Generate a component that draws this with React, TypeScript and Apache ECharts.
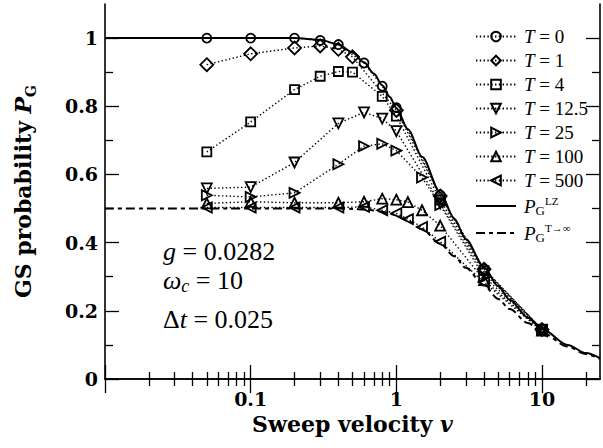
import React, { useEffect, useRef } from "react";
import * as echarts from "echarts";

// ---------- data ----------
const seriesNames = ["T0", "T1", "T4", "T12", "T25", "T100", "T500"];
const seriesLabels = ["0", "1", "4", "12.5", "25", "100", "500"];
const seriesSymbols = ["circle", "diamond", "rect", "triangle", "triangle", "triangle", "triangle"];
const seriesRotate = [0, 0, 0, 180, -90, 0, 90];
const seriesSizes = [9, 13, 9, 10, 10, 10, 10];

const vT0 = [0.05, 0.1, 0.2, 0.3, 0.4, 0.6, 0.8, 1.0, 2, 4, 10];
const pT0 = [1.0, 1.0, 1.0, 0.993, 0.981, 0.927, 0.859, 0.796, 0.54, 0.323, 0.146];

const vT1 = [0.05, 0.1, 0.2, 0.3, 0.4, 0.5, 1.0, 2, 4, 10];
const pT1 = [0.922, 0.954, 0.971, 0.977, 0.967, 0.945, 0.788, 0.537, 0.322, 0.145];

const vT4 = [0.05, 0.1, 0.2, 0.3, 0.4, 0.5, 0.8, 1.0, 2, 4, 10];
const pT4 = [0.666, 0.754, 0.849, 0.888, 0.902, 0.9, 0.829, 0.771, 0.525, 0.318, 0.145];

const vT12 = [0.05, 0.1, 0.2, 0.4, 0.6, 0.8, 1.0, 2, 4, 10];
const pT12 = [0.559, 0.563, 0.635, 0.75, 0.782, 0.764, 0.727, 0.515, 0.31, 0.145];

const vT25 = [0.05, 0.1, 0.2, 0.4, 0.6, 0.8, 1.0, 1.5, 2, 4, 10];
const pT25 = [0.539, 0.534, 0.546, 0.63, 0.683, 0.69, 0.67, 0.591, 0.51, 0.3, 0.144];

const vT100 = [0.05, 0.1, 0.2, 0.4, 0.6, 0.8, 1.0, 1.2, 1.5, 2, 4, 10];
const pT100 = [0.515, 0.52, 0.517, 0.517, 0.52, 0.529, 0.526, 0.519, 0.495, 0.45, 0.29, 0.142];

const vT500 = [0.05, 0.1, 0.2, 0.4, 0.6, 0.8, 1.0, 1.2, 1.5, 2, 4, 10];
const pT500 = [0.503, 0.503, 0.503, 0.503, 0.505, 0.495, 0.486, 0.469, 0.446, 0.403, 0.283, 0.14];

const vCurve = [0.01, 0.1, 0.2, 0.3, 0.4, 0.5, 0.6, 0.7, 0.8, 0.9, 1.0, 1.2, 1.5, 2, 2.5, 3, 4, 5, 6, 8, 10, 15, 20, 25];
const pLZ = [1, 1, 1, 0.995, 0.981, 0.958, 0.929, 0.896, 0.862, 0.828, 0.795, 0.733, 0.652, 0.547, 0.47, 0.41, 0.327, 0.272, 0.232, 0.18, 0.147, 0.1, 0.076, 0.061];
const pInf = [0.5, 0.5, 0.5, 0.5, 0.4998, 0.499, 0.4975, 0.4946, 0.4905, 0.485, 0.479, 0.464, 0.439, 0.397, 0.36, 0.326, 0.274, 0.235, 0.205, 0.164, 0.136, 0.095, 0.073, 0.059];

const xMajorTicks = [0.01, 0.1, 1, 10];
const xLabelTicks = [0.1, 1, 10];
const xMinorTicks = [0.02, 0.03, 0.04, 0.05, 0.06, 0.07, 0.08, 0.09, 0.2, 0.3, 0.4, 0.5, 0.6, 0.7, 0.8, 0.9, 2, 3, 4, 5, 6, 7, 8, 9, 20];
const yMajorTicks = [0, 0.2, 0.4, 0.6, 0.8, 1];
const yLabelText = ["0", "0.2", "0.4", "0.6", "0.8", "1"];
const yMinorTicks = [0.1, 0.3, 0.5, 0.7, 0.9];

const xs = [vT0, vT1, vT4, vT12, vT25, vT100, vT500];
const ps = [pT0, pT1, pT4, pT12, pT25, pT100, pT500];

const SERIF = "Liberation Serif";
const BOLD = "DejaVu Serif";

function zip(a: number[], b: number[]) {
  return a.map((v, i) => [v, b[i]]);
}

function xAxisCfg(position: string, ticks: number[], len: number, labels: boolean, line: boolean) {
  return {
    type: "log",
    logBase: 10,
    min: 0.01,
    max: 25,
    position,
    axisLine: { show: line, lineStyle: { color: "#000", width: 1.6 } },
    axisTick: { show: true, inside: true, length: len, customValues: ticks, lineStyle: { color: "#000", width: 1.3 } },
    axisLabel: labels
      ? {
          show: true,
          customValues: xLabelTicks,
          formatter: (v: number) => String(v),
          fontFamily: BOLD,
          fontWeight: "bold",
          fontSize: 19,
          color: "#000",
          margin: 10,
        }
      : { show: false },
    splitLine: { show: false },
    minorTick: { show: false },
    name: labels ? "Sweep velocity {i|v}" : "",
    nameLocation: "middle",
    nameGap: 34,
    nameTextStyle: {
      fontFamily: BOLD,
      fontWeight: "bold",
      fontSize: 22,
      color: "#000",
      rich: { i: { fontFamily: BOLD, fontWeight: "bold", fontStyle: "italic", fontSize: 22, color: "#000" } },
    },
  };
}

function yAxisCfg(position: string, ticks: number[], len: number, labels: boolean, line: boolean) {
  return {
    type: "value",
    min: 0,
    max: 1.1,
    position,
    axisLine: { show: line, lineStyle: { color: "#000", width: 1.6 } },
    axisTick: { show: true, inside: true, length: len, customValues: ticks, lineStyle: { color: "#000", width: 1.3 } },
    axisLabel: labels
      ? {
          show: true,
          customValues: yMajorTicks,
          formatter: (v: number) => yLabelText[yMajorTicks.indexOf(v)] ?? "",
          fontFamily: BOLD,
          fontWeight: "bold",
          fontSize: 19,
          color: "#000",
          margin: 7,
        }
      : { show: false },
    splitLine: { show: false },
    minorTick: { show: false },
    name: labels ? "GS probability {pi|P}{sub|G}" : "",
    nameLocation: "middle",
    nameRotate: 90,
    nameGap: 67,
    nameTextStyle: {
      fontFamily: BOLD,
      fontWeight: "bold",
      fontSize: 22,
      color: "#000",
      lineHeight: 30,
      rich: {
        pi: { fontFamily: BOLD, fontWeight: "bold", fontStyle: "italic", fontSize: 22, color: "#000", lineHeight: 30 },
        sub: { fontFamily: BOLD, fontWeight: "bold", fontSize: 14, color: "#000", verticalAlign: "bottom", lineHeight: 16 },
      },
    },
  };
}

const legendRich = {
  i: { fontFamily: SERIF, fontStyle: "italic", fontSize: 19, color: "#000", lineHeight: 20 },
  r: { fontFamily: SERIF, fontSize: 19, color: "#000", lineHeight: 20 },
  p: { fontFamily: SERIF, fontStyle: "italic", fontSize: 19, color: "#000", lineHeight: 22 },
  g: { fontFamily: SERIF, fontSize: 13, color: "#000", verticalAlign: "bottom", lineHeight: 10 },
  s: { fontFamily: SERIF, fontSize: 11, color: "#000", verticalAlign: "top", lineHeight: 10 },
};

function legendFormatter(name: string) {
  const k = seriesNames.indexOf(name);
  if (k >= 0) return `{i|T}{r| = ${seriesLabels[k]}}`;
  if (name === "LZ") return "{p|P}{g|G}{s|LZ}";
  return "{p|P}{g|G}{s|T→∞}";
}

const option: any = {
  animation: false,
  backgroundColor: "#fff",
  grid: { left: 88, right: 3, top: 4, bottom: 69, containLabel: false },
  xAxis: [
    xAxisCfg("bottom", xMajorTicks, 14, true, true),
    xAxisCfg("top", xMajorTicks, 14, false, true),
    xAxisCfg("bottom", xMinorTicks, 7, false, false),
    xAxisCfg("top", xMinorTicks, 7, false, false),
  ],
  yAxis: [
    yAxisCfg("left", yMajorTicks, 14, true, true),
    yAxisCfg("right", yMajorTicks, 14, false, true),
    yAxisCfg("left", yMinorTicks, 8, false, false),
    yAxisCfg("right", yMinorTicks, 8, false, false),
  ],
  legend: {
    orient: "vertical",
    left: 470,
    top: 22,
    itemWidth: 40,
    itemHeight: 12,
    itemGap: 5,
    selectedMode: false,
    data: [...seriesNames, "LZ", "Tinf"],
    formatter: legendFormatter,
    textStyle: { rich: legendRich, color: "#000", padding: [0, 0, 0, 3] },
  },
  graphic: [
    {
      type: "text",
      left: 163,
      top: 238,
      style: {
        text: "{i|g}{r| = 0.0282}",
        rich: {
          i: { fontFamily: SERIF, fontStyle: "italic", fontSize: 26, fill: "#000" },
          r: { fontFamily: SERIF, fontSize: 26, fill: "#000" },
        },
      },
    },
    {
      type: "text",
      left: 163,
      top: 267,
      style: {
        text: "{i|ω}{s|c}{r| = 10}",
        rich: {
          i: { fontFamily: SERIF, fontStyle: "italic", fontSize: 26, fill: "#000", lineHeight: 30 },
          s: { fontFamily: SERIF, fontStyle: "italic", fontSize: 18, fill: "#000", verticalAlign: "bottom", lineHeight: 16 },
          r: { fontFamily: SERIF, fontSize: 26, fill: "#000", lineHeight: 30 },
        },
      },
    },
    {
      type: "text",
      left: 163,
      top: 306,
      style: {
        text: "{r|Δ}{i|t}{r| = 0.025}",
        rich: {
          i: { fontFamily: SERIF, fontStyle: "italic", fontSize: 26, fill: "#000" },
          r: { fontFamily: SERIF, fontSize: 26, fill: "#000" },
        },
      },
    },
  ],
  series: [
    ...seriesNames.map((name, k) => ({
      name,
      type: "line",
      xAxisIndex: 0,
      yAxisIndex: 0,
      data: zip(xs[k], ps[k]),
      symbol: seriesSymbols[k],
      symbolSize: seriesSizes[k],
      symbolRotate: seriesRotate[k],
      showAllSymbol: true,
      lineStyle: { color: "#000", width: 1.4, type: [1.4, 2.4] },
      itemStyle: { color: "rgba(255,255,255,0)", borderColor: "#000", borderWidth: 1.8 },
      z: 3,
    })),
    {
      name: "LZ",
      type: "line",
      data: zip(vCurve, pLZ),
      symbol: "none",
      smooth: 0.3,
      smoothMonotone: "x",
      lineStyle: { color: "#000", width: 2 },
      itemStyle: { color: "rgba(0,0,0,0)", borderWidth: 0 },
      z: 2,
    },
    {
      name: "Tinf",
      type: "line",
      data: zip(vCurve, pInf),
      symbol: "none",
      smooth: 0.3,
      smoothMonotone: "x",
      lineStyle: { color: "#000", width: 2, type: [9, 4, 4, 4] },
      itemStyle: { color: "rgba(0,0,0,0)", borderWidth: 0 },
      z: 2,
    },
  ],
};

export default function App() {
  const ref = useRef<HTMLDivElement>(null);
  useEffect(() => {
    const chart = echarts.init(ref.current!, null, { renderer: "svg" });
    chart.setOption(option);
    return () => chart.dispose();
  }, []);
  return <div ref={ref} style={{ position: "fixed", left: 0, top: 0, width: 603, height: 448 }} />;
}
